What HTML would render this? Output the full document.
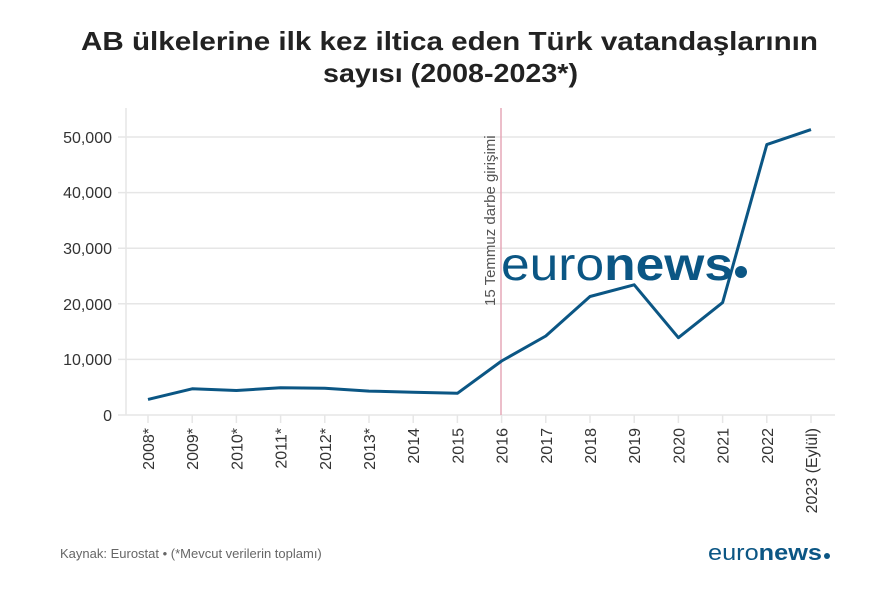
<!DOCTYPE html>
<html><head><meta charset="utf-8"><style>
body{margin:0;background:#fff;}
svg{display:block;font-family:"Liberation Sans",sans-serif;}
</style></head><body>
<svg width="887" height="593" viewBox="0 0 887 593">
<text x="81" y="50" textLength="737" lengthAdjust="spacingAndGlyphs" font-size="26" font-weight="bold" fill="#222">AB ülkelerine ilk kez iltica eden Türk vatandaşlarının</text>
<text x="323" y="82" textLength="255" lengthAdjust="spacingAndGlyphs" font-size="26" font-weight="bold" fill="#222">sayısı (2008-2023*)</text>
<g stroke="#e6e6e6" stroke-width="1.5">
<line x1="118" x2="835" y1="137" y2="137"/>
<line x1="118" x2="835" y1="192.6" y2="192.6"/>
<line x1="118" x2="835" y1="248.2" y2="248.2"/>
<line x1="118" x2="835" y1="303.8" y2="303.8"/>
<line x1="118" x2="835" y1="359.4" y2="359.4"/>
<line x1="118" x2="835" y1="415" y2="415"/>
<line x1="126" x2="126" y1="108" y2="415"/>
</g>
<g font-size="16" fill="#333" text-anchor="end">
<text x="112" y="143">50,000</text>
<text x="112" y="198">40,000</text>
<text x="112" y="254">30,000</text>
<text x="112" y="310">20,000</text>
<text x="112" y="365">10,000</text>
<text x="112" y="421">0</text>
</g>
<g stroke="#e6e6e6" stroke-width="1.5" id="ticks"></g>
<line x1="501" x2="501" y1="108" y2="415" stroke="#e6a8b8" stroke-width="1.5"/>
<text transform="translate(495,306) rotate(-90)" font-size="15" fill="#555">15 Temmuz darbe girişimi</text>
<text x="501" y="280" font-size="46" fill="#0b5684" textLength="232" lengthAdjust="spacingAndGlyphs"><tspan>euro</tspan><tspan font-weight="bold">news</tspan></text>
<circle cx="741" cy="272" r="6" fill="#0b5684"/>
<polyline fill="none" stroke="#0b5684" stroke-width="3" stroke-linejoin="round" points="148,399.4 192.2,388.8 236.4,390.5 280.6,387.7 324.8,388.3 369,391.1 413.2,392.2 457.4,393.3 501.6,361 545.8,336 590,296.5 634.2,284.8 678.4,337.7 722.6,302.6 766.8,144.6 811,129.6"/>
<g font-size="16" fill="#333" id="xl"></g>
<text x="60" y="558" font-size="13" fill="#666">Kaynak: Eurostat • (*Mevcut verilerin toplamı)</text>
<text x="708" y="560" font-size="22" fill="#0b5684" textLength="114" lengthAdjust="spacingAndGlyphs"><tspan>euro</tspan><tspan font-weight="bold">news</tspan></text>
<circle cx="827" cy="556" r="3" fill="#0b5684"/>
</svg>
<script>
var labs=["2008*","2009*","2010*","2011*","2012*","2013*","2014","2015","2016","2017","2018","2019","2020","2021","2022","2023 (Eylül)"];
var t=document.getElementById("ticks"),xl=document.getElementById("xl"),ns="http://www.w3.org/2000/svg";
labs.forEach(function(l,i){var x=148+i*44.2;
var ln=document.createElementNS(ns,"line");ln.setAttribute("x1",x);ln.setAttribute("x2",x);ln.setAttribute("y1",415);ln.setAttribute("y2",423);t.appendChild(ln);
var tx=document.createElementNS(ns,"text");tx.setAttribute("transform","translate("+(x+6)+",428) rotate(-90)");tx.setAttribute("text-anchor","end");tx.textContent=l;xl.appendChild(tx);});
</script>
</body></html>
